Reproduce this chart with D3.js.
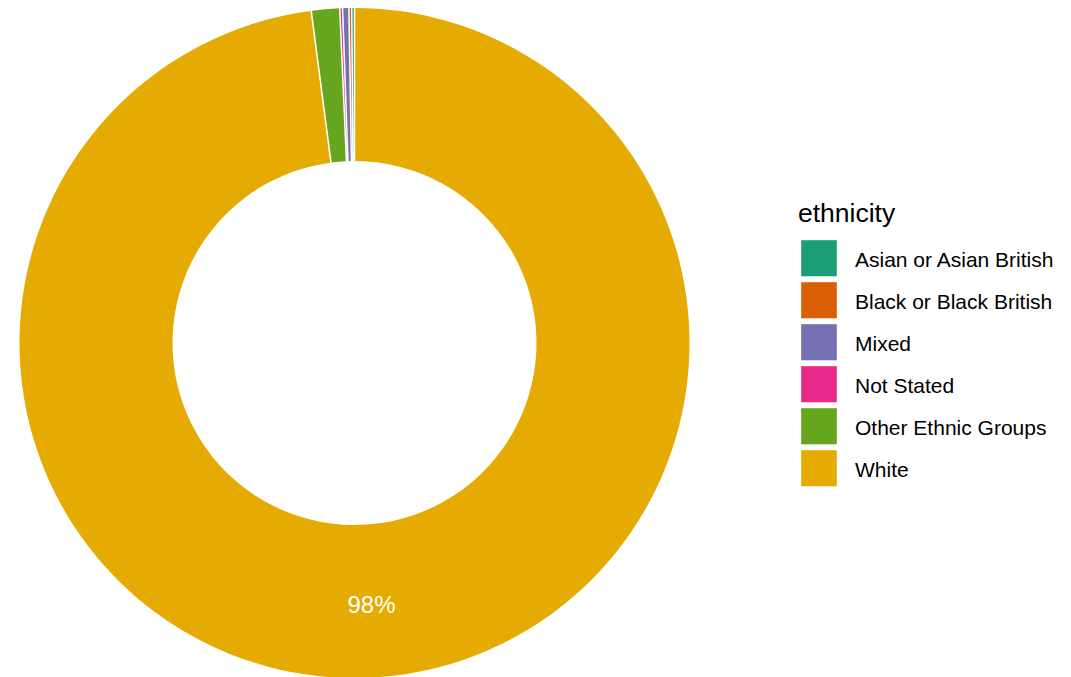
<!DOCTYPE html>
<html>
<head>
<meta charset="utf-8">
<script src="https://cdn.jsdelivr.net/npm/d3@7"></script>
<style>
html,body{margin:0;padding:0;background:#fff;}
svg{display:block;font-family:"Liberation Sans",Arial,sans-serif;}
</style>
</head>
<body>
<svg id="chart" width="1071" height="677"></svg>
<script>
const categories = ["Asian or Asian British","Black or Black British","Mixed","Not Stated","Other Ethnic Groups","White"];
const values = [0.07, 0.07, 0.24, 0.07, 1.3, 98.25];
const colors = ["#1B9E77","#D95F02","#7570B3","#E7298A","#66A61E","#E6AB02"];
const labelText = ["","","","","","98%"];
const legendTitle = "ethnicity";

const svg = d3.select("#chart");
const cx = 354.5, cy = 343;
const outerR = 335, innerR = 182;

const color = d3.scaleOrdinal().domain(categories).range(colors);

// stacking order clockwise from top: last level first
const data = categories.map((c,i)=>({cat:c, value:values[i], label:labelText[i]})).reverse();

const pie = d3.pie().sort(null).value(d=>d.value).padAngle(0.004);
const arcs = pie(data);
const arc = d3.arc().innerRadius(innerR).outerRadius(outerR);

const g = svg.append("g").attr("transform",`translate(${cx},${cy})`);
g.selectAll("path").data(arcs).join("path")
  .attr("d", arc)
  .attr("fill", d=>color(d.data.cat));

const labelR = 262;
g.selectAll("text.lbl").data(arcs.filter(d=>d.data.label)).join("text")
  .attr("class","lbl")
  .attr("x", d=>{const a=(d.startAngle+d.endAngle)/2; return labelR*Math.sin(a);})
  .attr("y", d=>{const a=(d.startAngle+d.endAngle)/2; return -labelR*Math.cos(a);})
  .attr("text-anchor","middle")
  .attr("dominant-baseline","central")
  .attr("fill","#fff")
  .attr("font-size","24px")
  .text(d=>d.data.label);

// legend
const lg = svg.append("g");
lg.append("text").attr("x",798).attr("y",222).attr("font-size","26.5px").attr("fill","#000").text(legendTitle);
const ly = d3.scaleBand().domain(categories).range([238, 238+42*categories.length]);
const items = lg.selectAll("g.item").data(categories).join("g").attr("class","item");
items.append("rect")
  .attr("x",800.5).attr("y",d=>ly(d)+1.5)
  .attr("width",37).attr("height",37.5)
  .attr("fill",d=>color(d)).attr("stroke","#fff").attr("stroke-width",1.4);
items.append("text")
  .attr("x",855).attr("y",d=>ly(d)+21)
  .attr("dominant-baseline","central")
  .attr("font-size","21px").attr("fill","#000")
  .text(d=>d);
</script>
</body>
</html>
